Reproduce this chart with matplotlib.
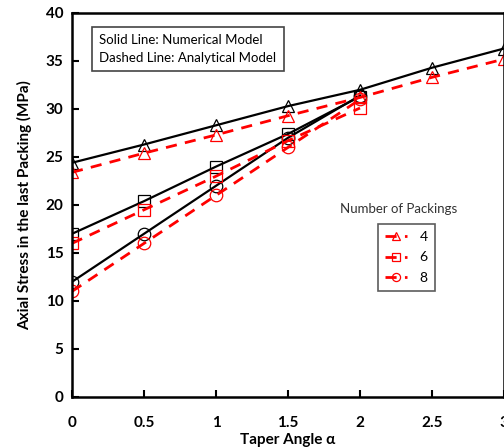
import matplotlib
matplotlib.use("Agg")
import matplotlib.pyplot as plt

plt.rcParams['font.family'] = ['Lato', 'DejaVu Sans']

# Данные
angle = [0, 0.5, 1, 1.5, 2, 2.5, 3]
angle_short = [0, 0.5, 1, 1.5, 2]

num_4 = [24.4, 26.3, 28.3, 30.3, 32.0, 34.3, 36.3]
ana_4 = [23.4, 25.4, 27.3, 29.3, 31.2, 33.3, 35.2]

num_6 = [17.0, 20.4, 24.0, 27.4, 31.3]
ana_6 = [16.0, 19.5, 23.0, 26.7, 30.1]

num_8 = [12.0, 17.0, 22.0, 27.0, 31.4]
ana_8 = [11.0, 16.0, 21.0, 26.0, 31.0]

labels = ["4", "6", "8"]

fig = plt.figure(figsize=(5.04, 4.47), dpi=100)
ax = fig.add_axes([72 / 504, 50 / 447, 432 / 504, 384 / 447])

mk = dict(markersize=9, markerfacecolor="none", markeredgewidth=0.9)

# Численная модель (сплошная)
ax.plot(angle, num_4, "-", color="black", lw=1.6, marker="^", markeredgecolor="black", **mk)
ax.plot(angle_short, num_6, "-", color="black", lw=1.6, marker="s", markeredgecolor="black", **mk)
ax.plot(angle_short, num_8, "-", color="black", lw=1.6, marker="o", markeredgecolor="black", **mk)

# Аналитическая модель (пунктир)
h4, = ax.plot(angle, ana_4, "--", color="red", lw=2, dashes=(4, 3), marker="^", markeredgecolor="red", **mk)
h6, = ax.plot(angle_short, ana_6, "--", color="red", lw=2, dashes=(4, 3), marker="s", markeredgecolor="red", **mk)
h8, = ax.plot(angle_short, ana_8, "--", color="red", lw=2, dashes=(4, 3), marker="o", markeredgecolor="red", **mk)

ax.set_xlim(0, 3)
ax.set_ylim(0, 40)
ax.set_xticks(angle)
ax.set_xticklabels(["0", "0.5", "1", "1.5", "2", "2.5", "3"])
ax.set_yticks(range(0, 41, 5))
ax.tick_params(direction="in", length=5, width=1.5, labelsize=11)
for t in ax.get_xticklabels() + ax.get_yticklabels():
    t.set_fontweight("bold")
ax.tick_params(axis="y", pad=6)
ax.tick_params(axis="x", pad=14)
for s in ax.spines.values():
    s.set_linewidth(1.8)

ax.set_xlabel("Taper Angle α", fontsize=11, fontweight="bold", labelpad=2)
ax.set_ylabel("Axial Stress in the last Packing (MPa)", fontsize=11, fontweight="bold", labelpad=10)

ax.text(0.063, 0.945, "Solid Line: Numerical Model\nDashed Line: Analytical Model",
        transform=ax.transAxes, ha="left", va="top", fontsize=9.5, linespacing=1.6,
        bbox=dict(boxstyle="square,pad=0.55", facecolor="white", edgecolor="#444444", lw=1.2))

ax.text(0.755, 0.49, "Number of Packings", transform=ax.transAxes, ha="center", va="center",
        fontsize=9.5, color="#333333")

leg = ax.legend([h4, h6, h8], labels, loc="upper left", bbox_to_anchor=(0.708, 0.45),
                borderaxespad=0, fontsize=10, frameon=True, fancybox=False, handlelength=1.6,
                handletextpad=0.9, borderpad=0.5, labelspacing=0.6, markerscale=0.65)
leg.get_frame().set_edgecolor("#333333")
leg.get_frame().set_linewidth(1.2)

fig.savefig("out.png", dpi=100)
